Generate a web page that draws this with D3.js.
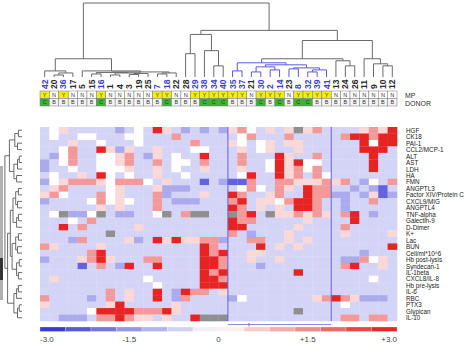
<!DOCTYPE html>
<html><head><meta charset="utf-8">
<script src="https://cdn.jsdelivr.net/npm/d3@7"></script>
<style>body{margin:0;background:#fff}svg{display:block}text{font-family:"Liberation Sans",Arial,sans-serif}</style>
</head><body><svg id="c" width="474" height="356"></svg>
<script>
const columns = ["42","20","36","17","5","15","16","1","4","3","19","25","7","18","22","28","29","38","34","40","35","37","21","30","2","14","23","8","32","39","41","13","24","26","11","9","10","12"];
const mp =      ["Y","N","Y","N","N","N","Y","N","N","N","N","N","Y","Y","N","N","Y","Y","Y","Y","Y","Y","N","Y","Y","Y","N","Y","Y","Y","Y","N","N","N","N","N","N","N"];
const donor =   ["C","B","B","B","B","B","C","B","B","B","B","B","B","C","B","B","B","C","C","C","B","B","B","C","B","C","B","C","C","B","B","B","B","B","B","B","B","B"];
const rowLabels = ["HGF","CK18","PAI-1","CCL2/MCP-1","ALT","AST","LDH","HA","FMN","ANGPTL3","Factor XIV/Protein C","CXCL9/MIG","ANGPTL4","TNF-alpha","Galectin-9","D-Dimer","K+","Lac","BUN","Cell/ml*10^6","Hb post-lysis","Syndecan-1","IL-1beta","CXCL8/IL-8","Hb pre-lysis","IL-6","RBC","PTX3","Glypican","IL-10"];
const B=-2.2,b=-1.2,l=-0.6,w=0,q=0.5,p=1.3,R=2.8,g=null;
const values = [
[l,w,q,l,l,l,l,l,b,l,w,l,R,q, l,b,l,b,l,b,q,p,w,l,q,l,q,g,q,p,l, l,l,l,q,p,q,R],
[l,w,l,l,w,w,l,l,l,w,w,l,l,l, p,l,l,l,l,l,l,w,p,l,l,l,p,l,l,l,l, l,p,R,R,p,R,R],
[l,l,l,q,l,l,w,l,l,l,w,l,l,l, l,l,p,l,l,l,q,w,l,w,q,l,q,q,l,l,l, l,l,l,R,w,R,R],
[l,l,w,p,l,l,R,q,b,q,l,l,q,l, l,l,w,w,l,l,l,q,l,w,q,l,l,q,l,l,l, l,l,l,R,R,R,l],
[l,b,w,p,l,l,w,w,q,p,l,b,q,l, w,l,l,R,l,l,l,p,l,l,l,R,q,l,l,p,l, l,l,l,l,R,l,l],
[b,l,w,p,l,l,w,w,q,p,l,l,p,l, w,w,l,p,l,l,l,p,l,l,w,R,q,R,w,w,l, l,l,l,l,R,l,l],
[b,l,l,w,l,l,w,w,w,q,l,l,q,l, w,l,l,q,l,l,l,q,l,l,w,R,q,p,w,p,l, l,l,l,l,R,l,l],
[l,w,l,l,q,l,R,w,l,w,l,l,q,l, l,w,l,l,l,l,l,w,R,l,l,R,q,p,l,p,w, l,l,l,l,l,l,l],
[b,w,q,p,p,p,q,w,p,p,p,w,l,q, l,l,l,B,l,b,B,B,p,l,l,p,p,q,q,q,p, q,p,l,b,w,l,p],
[l,q,p,l,l,l,l,w,q,l,l,l,q,b, b,b,l,l,l,l,l,w,p,w,l,p,q,l,R,p,p, l,l,b,l,b,B,l],
[q,p,w,l,l,l,p,w,q,l,l,l,p,b, l,l,l,q,l,l,R,p,l,l,q,p,l,l,R,p,p, b,b,l,b,q,B,b],
[b,l,l,l,l,w,p,w,q,w,l,l,p,l, b,b,b,l,l,l,p,R,l,q,q,w,p,R,R,p,l, l,b,l,l,p,l,l],
[l,l,l,l,l,l,q,l,q,l,l,l,p,l, l,l,l,l,l,l,R,p,l,q,l,q,l,R,R,p,l, l,b,l,l,l,l,l],
[l,w,g,b,b,w,g,l,b,b,l,l,w,g, l,p,g,g,l,l,g,p,R,l,g,q,q,p,q,p,q, l,p,R,l,b,l,l],
[l,l,l,w,l,p,l,l,l,l,l,l,l,l, l,l,l,l,l,l,R,p,p,l,l,l,l,l,q,l,l, l,l,R,l,l,l,l],
[l,l,R,l,p,l,l,l,l,l,q,l,l,l, l,l,l,l,l,l,R,R,l,l,l,l,l,q,l,l,l, l,p,l,l,l,l,l],
[l,l,l,l,l,l,l,g,l,l,l,l,l,l, l,l,l,l,l,l,p,l,b,l,l,l,q,l,l,l,l, l,q,l,l,l,l,q],
[l,l,l,b,p,l,l,l,l,q,b,l,R,q, R,q,q,p,p,b,l,l,p,p,l,l,q,l,q,l,l, l,l,l,l,l,l,l],
[p,q,l,l,l,l,q,l,l,l,l,l,l,l, l,l,l,R,p,l,l,l,l,R,l,q,l,q,l,l,l, l,l,l,l,l,l,R],
[l,l,l,l,l,p,R,l,l,l,l,l,l,l, l,l,l,R,p,R,l,l,q,q,l,l,l,l,l,l,l, l,l,l,b,l,l,l],
[b,l,l,l,q,p,R,q,l,l,l,p,p,l, l,l,l,R,R,p,l,l,q,l,l,q,l,l,l,l,l, l,b,b,p,w,q,l],
[l,l,l,l,B,l,p,l,b,R,l,l,R,l, l,l,l,R,R,p,l,l,l,b,l,l,l,l,l,l,l, l,p,R,l,l,q,l],
[l,l,l,l,l,l,l,l,l,l,l,l,l,l, l,l,l,R,p,R,l,l,l,l,l,l,l,R,l,l,l, l,l,l,l,l,l,l],
[l,q,l,l,l,l,l,l,l,l,l,w,l,l, l,l,l,R,R,p,l,l,l,l,l,l,l,l,l,l,l, l,l,l,l,w,l,l],
[l,l,l,l,l,l,l,l,l,l,l,l,w,l, l,l,l,R,R,R,l,l,l,l,l,l,l,l,l,l,l, l,l,l,l,l,l,l],
[l,l,l,l,l,l,l,p,l,q,l,l,R,l, b,R,p,p,l,q,l,l,l,l,l,l,l,l,l,l,l, l,l,l,l,l,l,l],
[p,l,l,l,l,b,l,p,l,q,l,l,R,l, b,p,l,l,l,l,b,w,l,l,l,l,l,l,l,q,p, R,p,q,b,b,b,l],
[q,l,l,l,l,l,l,q,R,l,l,l,l,l, q,l,l,l,l,l,l,l,l,l,l,l,l,l,l,l,l, l,w,l,l,l,l,l],
[l,l,l,l,l,w,R,R,R,R,p,p,p,R, q,l,l,l,l,l,l,l,l,l,l,l,l,g,l,l,l, l,l,l,l,l,l,l],
[l,l,b,b,b,l,p,p,R,p,q,q,l,q, l,l,R,g,g,g,l,l,l,l,l,l,l,l,l,l,l, l,p,p,l,p,p,l]
];
// column dendrogram: [left, right, height]; leaves are column indices
const LL = [0,[[1,2,2],3,4],6];
const R2 = [[5,6,3],[[7,8,2],[[9,10,2.5],11,3.5],4],4.5];
const R3 = [[12,13,3],14,4];
const LR = [4,[R2,R3,5],6];
const G1 = [[15,16,23],[17,[18,19,11],26],42];
const BLUE = [[20,21,6],[[[22,23,5],[24,25,7],10],[[26,27,8],[[28,29,5],30,7],9],12],14];
const G2 = [31,[32,33,11],16];
const G3 = [34,[35,[36,37,11],13],18];
const colTree = [[LL,LR,18],[G1,[[BLUE,G2,18],G3,36],46],73];
// row dendrogram
const rowTree = [
  [[[0,1,2],[2,3,2.5],4],[[[4,5,1.5],6,2.5],[7,8,3],4.5],7],
  [[[[[9,10,2],[11,12,2.5],3.5],[[13,14,2],15,3],5],[[[16,17,2],[18,19,2.5],3.5],[[20,21,1.5],[22,23,2],3],5.5],6.5],
   [[[24,25,2],26,3],[[27,28,1.5],29,2.5],4.5],8],9.5];
const colorTicks = [-3,-1.5,0,1.5,3];
const tickLabels = ["-3.0","-1.5","0","+1.5","+3.0"];

const svg = d3.select("#c");
const x = d3.scaleBand().domain(d3.range(columns.length)).range([40,397]);
const y = d3.scaleBand().domain(d3.range(rowLabels.length)).range([127,321]);
const color = d3.scaleLinear().domain([-3,0,3]).range(["#2a2ad2","#ffffff","#e41414"]).clamp(true);

// heatmap
const cells = [];
values.forEach((row,ri)=>row.forEach((v,ci)=>cells.push({ri,ci,v})));
svg.append("g").selectAll("rect").data(cells).join("rect")
  .attr("x",d=>x(d.ci)).attr("y",d=>y(d.ri))
  .attr("width",x.bandwidth()+0.3).attr("height",y.bandwidth()+0.3)
  .attr("fill",d=>d.v===null?"#8f8f8f":color(d.v));

// row labels
svg.append("g").selectAll("text").data(rowLabels).join("text")
  .attr("x",406).attr("y",(d,i)=>y(i)+y.bandwidth()/2)
  .attr("dominant-baseline","central").attr("font-size",6.3).attr("fill","#222").text(d=>d);

// annotation rows
const ann = svg.append("g");
const annRows = [{vals:mp,y0:91,fill:v=>v==="Y"?"#f0f000":"#ffffff"},{vals:donor,y0:98.5,fill:v=>v==="C"?"#3db335":"#f4f4f4"}];
annRows.forEach(a=>{
  a.vals.forEach((v,i)=>{
    ann.append("rect").attr("x",x(i)).attr("y",a.y0).attr("width",x.bandwidth()).attr("height",7.5)
      .attr("fill",a.fill(v)).attr("stroke","#7a7a7a").attr("stroke-width",0.5);
    ann.append("text").attr("x",x(i)+x.bandwidth()/2).attr("y",a.y0+3.9).attr("text-anchor","middle")
      .attr("dominant-baseline","central").attr("font-size",5.5).attr("fill","#333").text(v);
  });
});
svg.append("text").attr("x",405).attr("y",95).attr("dominant-baseline","central").attr("font-size",7).attr("fill","#333").text("MP");
svg.append("text").attr("x",405).attr("y",103).attr("dominant-baseline","central").attr("font-size",7).attr("fill","#333").text("DONOR");

// column labels
svg.append("g").selectAll("text").data(columns).join("text")
  .attr("transform",(d,i)=>`translate(${x(i)+x.bandwidth()/2},89) rotate(-90)`)
  .attr("dominant-baseline","central").attr("font-size",8.5).attr("font-weight","bold")
  .attr("fill",(d,i)=>mp[i]==="Y"?"#3c3cd6":"#2a2a2a").text(d=>d);

// column dendrogram
const cy = d3.scaleLinear().domain([0,73]).range([77,3]);
const cg = svg.append("g").attr("fill","none").attr("stroke-width",1);
function colLayout(node, blue){
  if(typeof node==="number") return {p:x(node)+x.bandwidth()/2,h:0};
  const isBlue = blue || node===BLUE;
  const a=colLayout(node[0],isBlue), c=colLayout(node[1],isBlue);
  cg.append("path").attr("d",`M${a.p},${cy(a.h)}V${cy(node[2])}H${c.p}V${cy(c.h)}`)
    .attr("stroke",isBlue?"#5a5ae0":"#6a6a6a");
  return {p:(a.p+c.p)/2,h:node[2]};
}
colLayout(colTree,false);

// row dendrogram
const rx = d3.scaleLinear().domain([0,10]).range([22,4]);
const rg = svg.append("g").attr("fill","none").attr("stroke","#6a6a6a").attr("stroke-width",1);
svg.append("rect").attr("x",0).attr("y",166).attr("width",3).attr("height",134).attr("fill","#b0b0b0");
svg.append("rect").attr("x",0).attr("y",258).attr("width",3).attr("height",22).attr("fill","#333");
function rowLayout(node){
  if(typeof node==="number") return {p:y(node)+y.bandwidth()/2,h:0};
  const a=rowLayout(node[0]), c=rowLayout(node[1]);
  rg.append("path").attr("d",`M${rx(a.h)},${a.p}H${rx(node[2])}V${c.p}H${rx(c.h)}`);
  return {p:(a.p+c.p)/2,h:node[2]};
}
rowLayout(rowTree);

// cluster box lines
const bx0 = x(20), bx1 = x(31);
svg.append("g").attr("stroke","#6262dc").attr("stroke-width",1).selectAll("line").data([bx0,bx1]).join("line")
  .attr("x1",d=>d).attr("x2",d=>d).attr("y1",127).attr("y2",321);
svg.append("line").attr("x1",bx0).attr("x2",bx1).attr("y1",324.5).attr("y2",324.5).attr("stroke","#8a8ae0").attr("stroke-width",1);
svg.append("line").attr("x1",249).attr("x2",249).attr("y1",323).attr("y2",326.5).attr("stroke","#6a6ad8").attr("stroke-width",1);

// colour bar
const cb = d3.scaleLinear().domain([-3,3]).range([40,397]);
const nSeg = 14, segs = d3.range(nSeg).map(i=>-3+i*6/nSeg);
svg.append("g").selectAll("rect").data(segs).join("rect")
  .attr("x",d=>cb(d)).attr("y",327).attr("width",cb(-3+6/nSeg)-cb(-3)).attr("height",4.5)
  .attr("fill",d=>color(d+3/nSeg)).attr("stroke","#ffffff").attr("stroke-opacity",0.5).attr("stroke-width",0.5);
svg.append("g").selectAll("text").data(colorTicks).join("text")
  .attr("x",d=>cb(d)).attr("y",342)
  .attr("text-anchor",(d,i)=>i===0?"start":(i===colorTicks.length-1?"end":"middle"))
  .attr("font-size",8).attr("fill","#444").text((d,i)=>tickLabels[i]);
</script></body></html>
